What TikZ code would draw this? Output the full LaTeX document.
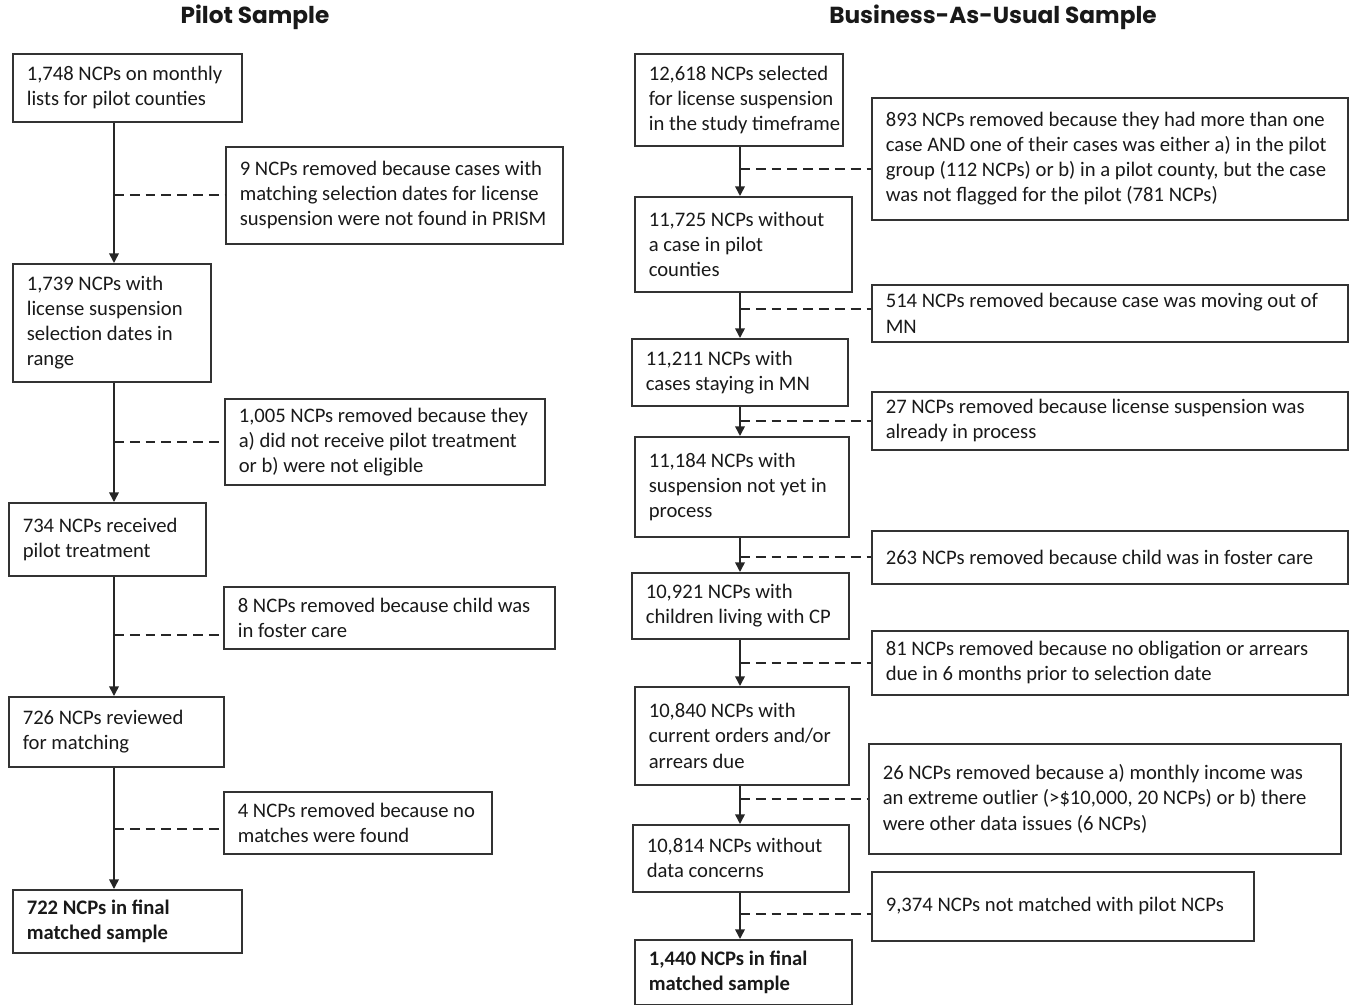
\documentclass[tikz,border=0pt]{standalone}
\usepackage{fontspec}
\setmainfont{Carlito}
\newfontfamily\headfont{Poppins}
\usetikzlibrary{arrows.meta}

\begin{document}
\begin{tikzpicture}[
    stepbox/.style={draw=black!80, line width=0.9pt, anchor=north west, align=flush left,
      inner xsep=0pt, inner ysep=0pt, text=black!90, font=\fontsize{11.75}{14.3}\selectfont,
      execute at begin node={\leftskip=0.28cm\hyphenpenalty=10000}},
    heading/.style={font=\headfont\fontsize{13.2}{15}\selectfont\bfseries, text=black!90},
    flow/.style={line width=0.9pt, draw=black!85, -{Triangle[length=5.5pt,width=5.5pt]}},
    drop/.style={line width=1.2pt, draw=black!85, dash pattern=on 5.6pt off 3.4pt}]
  \useasboundingbox (0,0) rectangle (26.98,-20.10);

  \node[heading] (pilot) at (5.10,-0.34) {Pilot Sample};
  \node[heading] (bau) at (19.86,-0.34) {Business-As-Usual Sample};

  % pilot sample
  \node[stepbox, text width=4.58cm, minimum height=1.36cm] (p1) at (0.24,-1.06) {1,748 NCPs on monthly\\lists for pilot counties};
  \node[stepbox, text width=6.74cm, minimum height=1.94cm] (pr1) at (4.50,-2.92) {9 NCPs removed because cases with\\matching selection dates for license\\suspension were not found in PRISM};
  \node[stepbox, text width=3.96cm, minimum height=2.36cm] (p2) at (0.24,-5.26) {1,739 NCPs with\\license suspension\\selection dates in\\range};
  \node[stepbox, text width=6.40cm, minimum height=1.72cm] (pr2) at (4.48,-7.96) {1,005 NCPs removed because they\\a) did not receive pilot treatment\\or b) were not eligible};
  \node[stepbox, text width=3.94cm, minimum height=1.46cm] (p3) at (0.16,-10.04) {734 NCPs received\\pilot treatment};
  \node[stepbox, text width=6.62cm, minimum height=1.24cm] (pr3) at (4.46,-11.72) {8 NCPs removed because child was\\in foster care};
  \node[stepbox, text width=4.30cm, minimum height=1.40cm] (p4) at (0.16,-13.92) {726 NCPs reviewed\\for matching};
  \node[stepbox, text width=5.36cm, minimum height=1.24cm] (pr4) at (4.46,-15.82) {4 NCPs removed because no\\matches were found};
  \node[stepbox, text width=4.58cm, minimum height=1.26cm] (p5) at (0.24,-17.78) {\bfseries 722 NCPs in final\\matched sample};

  % business-as-usual sample
  \node[stepbox, text width=4.16cm, minimum height=1.84cm] (b1) at (12.68,-1.06) {12,618 NCPs selected\\for license suspension\\in the study timeframe};
  \node[stepbox, text width=9.52cm, minimum height=2.44cm] (br1) at (17.42,-1.94) {893 NCPs removed because they had more than one\\case AND one of their cases was either a) in the pilot\\group (112 NCPs) or b) in a pilot county, but the case\\was not flagged for the pilot (781 NCPs)};
  \node[stepbox, text width=4.34cm, minimum height=1.90cm] (b2) at (12.68,-3.92) {11,725 NCPs without\\a case in pilot\\counties};
  \node[stepbox, text width=9.52cm, minimum height=1.14cm] (br2) at (17.42,-5.68) {514 NCPs removed because case was moving out of\\MN};
  \node[stepbox, text width=4.32cm, minimum height=1.34cm] (b3) at (12.62,-6.76) {11,211 NCPs with\\cases staying in MN};
  \node[stepbox, text width=9.52cm, minimum height=1.16cm] (br3) at (17.42,-7.82) {27 NCPs removed because license suspension was\\already in process};
  \node[stepbox, text width=4.28cm, minimum height=2.00cm] (b4) at (12.68,-8.72) {11,184 NCPs with\\suspension not yet in\\process};
  \node[stepbox, text width=9.52cm, minimum height=1.06cm] (br4) at (17.42,-10.60) {263 NCPs removed because child was in foster care};
  \node[stepbox, text width=4.34cm, minimum height=1.32cm] (b5) at (12.62,-11.44) {10,921 NCPs with\\children living with CP};
  \node[stepbox, text width=9.52cm, minimum height=1.28cm] (br5) at (17.42,-12.60) {81 NCPs removed because no obligation or arrears\\due in 6 months prior to selection date};
  \node[stepbox, text width=4.28cm, minimum height=1.96cm] (b6) at (12.68,-13.72) {10,840 NCPs with\\current orders and/or\\arrears due};
  \node[stepbox, text width=9.44cm, minimum height=2.20cm] (br6) at (17.36,-14.86) {26 NCPs removed because a) monthly income was\\an extreme outlier (>\$10,000, 20 NCPs) or b) there\\were other data issues (6 NCPs)};
  \node[stepbox, text width=4.32cm, minimum height=1.34cm] (b7) at (12.64,-16.48) {10,814 NCPs without\\data concerns};
  \node[stepbox, text width=7.64cm, minimum height=1.38cm] (br7) at (17.42,-17.42) {9,374 NCPs not matched with pilot NCPs};
  \node[stepbox, text width=4.34cm, minimum height=1.30cm] (b8) at (12.68,-18.78) {\bfseries 1,440 NCPs in final\\matched sample};

  % connectors
  \coordinate (pcol) at (2.28,0);
  \coordinate (bcol) at (14.80,0);
  \draw[flow] (pcol |- p1.south) -- (pcol |- p2.north);
  \draw[flow] (pcol |- p2.south) -- (pcol |- p3.north);
  \draw[flow] (pcol |- p3.south) -- (pcol |- p4.north);
  \draw[flow] (pcol |- p4.south) -- (pcol |- p5.north);
  \draw[flow] (bcol |- b1.south) -- (bcol |- b2.north);
  \draw[flow] (bcol |- b2.south) -- (bcol |- b3.north);
  \draw[flow] (bcol |- b3.south) -- (bcol |- b4.north);
  \draw[flow] (bcol |- b4.south) -- (bcol |- b5.north);
  \draw[flow] (bcol |- b5.south) -- (bcol |- b6.north);
  \draw[flow] (bcol |- b6.south) -- (bcol |- b7.north);
  \draw[flow] (bcol |- b7.south) -- (bcol |- b8.north);

  \coordinate (pd3) at ([yshift=-0.34cm]pr3.west);
  \coordinate (pd4) at ([yshift=-0.12cm]pr4.west);
  \coordinate (bd1) at ([yshift=-0.20cm]br1.west);
  \coordinate (bd2) at ([yshift=0.09cm]br2.west);
  \coordinate (bd7) at ([yshift=-0.15cm]br7.west);
  \draw[drop] (pcol |- pr1.west) -- (pr1.west);
  \draw[drop] (pcol |- pr2.west) -- (pr2.west);
  \draw[drop] (pcol |- pd3) -- (pd3);
  \draw[drop] (pcol |- pd4) -- (pd4);
  \draw[drop] (bcol |- bd1) -- (bd1);
  \draw[drop] (bcol |- bd2) -- (bd2);
  \draw[drop] (bcol |- br3.west) -- (br3.west);
  \draw[drop] (bcol |- br4.west) -- (br4.west);
  \draw[drop] (bcol |- br5.west) -- (br5.west);
  \draw[drop] (bcol |- br6.west) -- (br6.west);
  \draw[drop] (bcol |- bd7) -- (bd7);
\end{tikzpicture}
\end{document}
